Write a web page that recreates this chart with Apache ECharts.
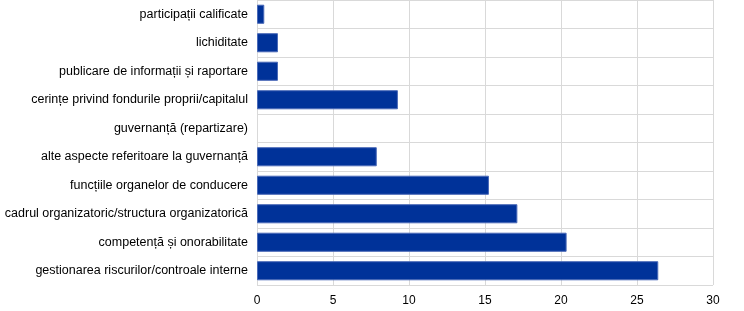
<!DOCTYPE html>
<html><head><meta charset="utf-8">
<script src="https://cdn.jsdelivr.net/npm/echarts@6/dist/echarts.min.js"></script>
<style>html,body{margin:0;padding:0;background:#fff}#c{width:744px;height:311px}</style>
</head><body><div id="c"></div>
<script>
const categories = [
  "participații calificate",
  "lichiditate",
  "publicare de informații și raportare",
  "cerințe privind fondurile proprii/capitalul",
  "guvernanță (repartizare)",
  "alte aspecte referitoare la guvernanță",
  "funcțiile organelor de conducere",
  "cadrul organizatoric/structura organizatorică",
  "competență și onorabilitate",
  "gestionarea riscurilor/controale interne"
];
const values = [0.48, 1.38, 1.38, 9.27, 0, 7.88, 15.26, 17.13, 20.37, 26.4];
const xTicks = [0, 5, 10, 15, 20, 25, 30];

const chart = echarts.init(document.getElementById('c'), null, {renderer: 'canvas'});
chart.setOption({
  animation: false,
  grid: {left: 257, right: 31, top: 0, bottom: 26, containLabel: false},
  xAxis: {
    type: 'value', min: xTicks[0], max: xTicks[xTicks.length - 1], interval: 5,
    axisLine: {show: false}, axisTick: {show: false},
    axisLabel: {color: '#000', fontFamily: 'Liberation Sans, Arial', fontSize: 12, margin: 10},
    splitLine: {show: true, lineStyle: {color: '#d9d9d9', width: 1}}
  },
  yAxis: {
    type: 'category', data: categories, inverse: true,
    axisLine: {show: true, lineStyle: {color: '#d9d9d9'}}, axisTick: {show: false},
    axisLabel: {color: '#000', fontFamily: 'Liberation Sans, Arial', fontSize: 12.5, margin: 9},
    splitLine: {show: true, lineStyle: {color: '#d9d9d9', width: 1}}
  },
  series: [{
    type: 'bar',
    data: values.map(v => v === 0 ? {value: v, itemStyle: {borderWidth: 0}} : v),
    barCategoryGap: '33%',
    itemStyle: {color: '#003299', borderColor: '#4a6ab8', borderWidth: 1}
  }]
});
</script></body></html>
